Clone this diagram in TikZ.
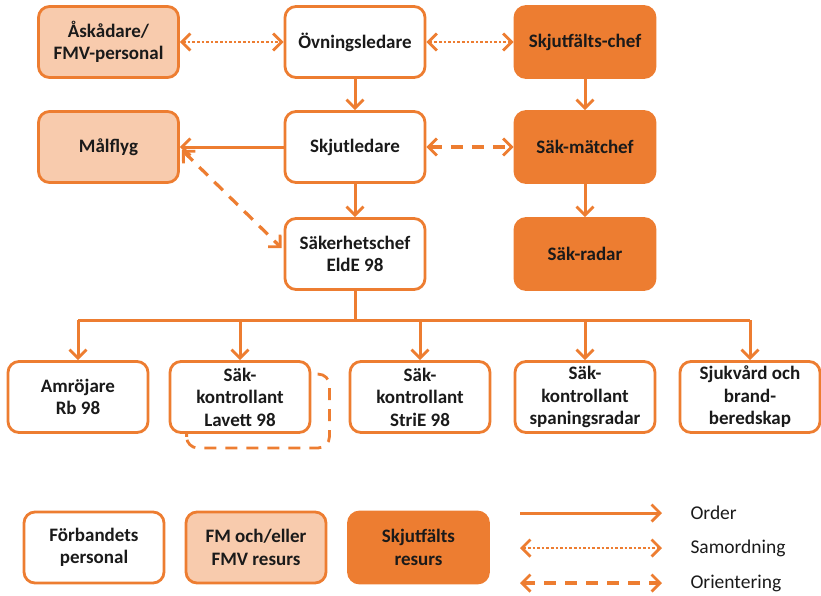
\documentclass[tikz,border=0pt]{standalone}
\usepackage{fontspec}
\setmainfont{Carlito}
\usetikzlibrary{arrows.meta,calc,backgrounds}
\definecolor{accent}{HTML}{ED7D31}
\definecolor{accentlight}{HTML}{F8CBAD}
\definecolor{ink}{HTML}{1A1A1A}
\tikzset{
  chev/.tip={Straight Barb[length=8.5pt,width=17pt,line width=2.8pt]},
  box/.style={draw=accent, line width=2.8pt, rounded corners=11pt,
    minimum width=140pt, minimum height=71pt, align=center, inner sep=2pt,
    text=ink, font=\bfseries\fontsize{19}{22.5}\selectfont},
  ownbox/.style={box, fill=white},
  extbox/.style={box, fill=accentlight},
  fieldbox/.style={box, fill=accent},
  orderarrow/.style={draw=accent, line width=3pt, -{chev}},
  busline/.style={draw=accent, line width=3pt},
  coordarrow/.style={draw=accent, line width=2.6pt, dash pattern=on 2.6pt off 2pt, {chev}-{chev}},
  infoarrow/.style={draw=accent, line width=3.2pt, dash pattern=on 12pt off 9pt, {chev}-{chev}},
  infoline/.style={draw=accent, line width=2.8pt, dash pattern=on 12pt off 9pt},
  keylabel/.style={anchor=west, text=ink, font=\fontsize{19.5}{22}\selectfont},
}
\begin{document}
\begin{tikzpicture}[x=1pt, y=-1pt]
\useasboundingbox (0,0) rectangle (821,595);

% leadership chain
\node[extbox]   (ask)  at (108.5,42)  {Åskådare/\\FMV-personal};
\node[ownbox]   (ovn)  at (355,42)    {Övningsledare};
\node[fieldbox] (sfc)  at (585,42)    {Skjutfälts-chef};
\node[extbox]   (mal)  at (108.5,147) {Målflyg};
\node[ownbox]   (skl)  at (355,147)   {Skjutledare};
\node[fieldbox] (smc)  at (585,147)   {Säk-mätchef};
\node[ownbox]   (sak)  at (355,254)   {Säkerhetschef\\EldE 98};
\node[fieldbox] (srad) at (585,254)   {Säk-radar};

% safety controllers
\node[ownbox] (amr) at (78,397)  {Amröjare\\Rb 98};
\node[ownbox] (lav) at (240,397) {Säk-\\kontrollant\\Lavett 98};
\node[ownbox] (str) at (420,397) {Säk-\\kontrollant\\StriE 98};
\node[ownbox] (spa) at (585,397) {Säk-\\kontrollant\\spaningsradar};
\node[ownbox] (sjv) at (750,397) {Sjukvård och\\brand-\\beredskap};

% second Lavett crew, outlined behind the box
\begin{pgfonlayer}{background}
  \draw[infoline, rounded corners=11pt]
    ($(lav.south west)+(18,14)$) rectangle ($(lav.north east)+(18,14)$);
\end{pgfonlayer}

% order lines
\draw[orderarrow] (ovn) -- (skl);
\draw[orderarrow] (skl) -- (sak);
\draw[orderarrow] (sfc) -- (smc);
\draw[orderarrow] (smc) -- (srad);
\draw[orderarrow] (skl.west) -- (mal.east);

% coordination and information
\draw[coordarrow] (ask.east) -- (ovn.west);
\draw[coordarrow] (ovn.east) -- (ovn.east -| sfc.west);
\draw[infoarrow] (skl.east) -- (skl.east -| smc.west);
\coordinate (malend) at ($(mal.east)+(2,3)$);
\coordinate (sakend) at ($(sak.west)+(-2,-6)$);
\draw[infoarrow] (malend) -- (sakend);

% distribution bus
\coordinate (bus) at (0,320);
\draw[busline] (sak.south) -- (sak.south |- bus);
\draw[busline] (amr.north |- bus) -- (sjv.north |- bus);
\foreach \n in {amr,lav,str,spa,sjv}
  \draw[orderarrow] (\n.north |- bus) -- (\n.north);

% key
\node[ownbox]   (kown)   at (94,547.5)    {Förbandets\\personal};
\node[extbox]   (kext)   at (256,547.5)   {FM och/eller\\FMV resurs};
\node[fieldbox] (kfield) at (418.5,547.5) {Skjutfälts\\resurs};

\coordinate (ka1) at (520,513); \coordinate (ka2) at (662,513);
\coordinate (kb1) at (520,548); \coordinate (kb2) at (662,548);
\coordinate (kc1) at (520,583); \coordinate (kc2) at (662,583);
\draw[orderarrow] (ka1) -- (ka2);
\draw[coordarrow] (kb1) -- (kb2);
\draw[infoarrow]  (kc1) -- (kc2);
\node[keylabel] (korder)  at (687,513) {Order};
\node[keylabel] (kcoord)  at (687,548) {Samordning};
\node[keylabel] (kinfo)   at (687,583) {Orientering};
\end{tikzpicture}
\end{document}
